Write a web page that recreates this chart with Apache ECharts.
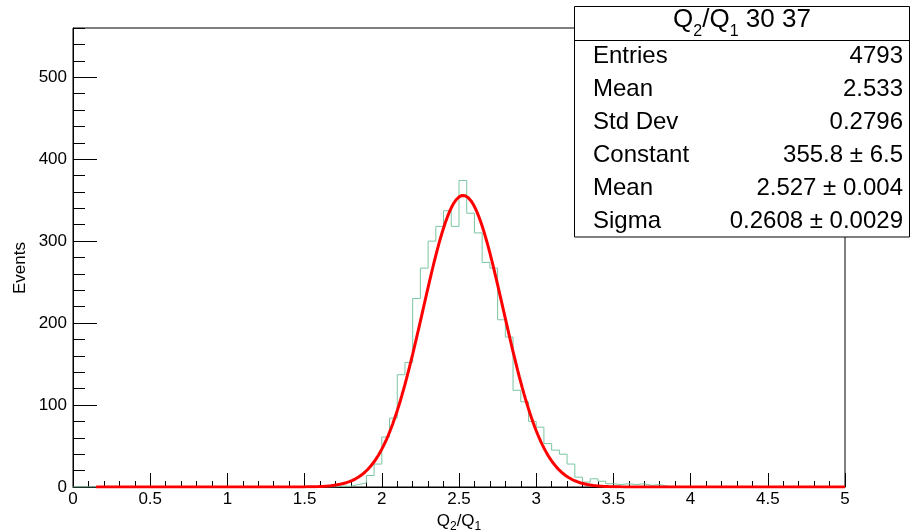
<!DOCTYPE html>
<html>
<head>
<meta charset="utf-8">
<script src="https://cdn.jsdelivr.net/npm/echarts@6/dist/echarts.min.js"></script>
<style>
  html, body { margin: 0; padding: 0; background: #fff; }
  #chart { width: 910px; height: 532px; }
</style>
</head>
<body>
<div id="chart"></div>
<script>
// Histogram binning: 100 bins of width 0.05 from 0 to 5
const binLow = 0;
const binWidth = 0.05;
const counts = [
  0, 0, 0, 0, 0, 0, 0, 0, 0, 0,
  0, 0, 0, 0, 0, 0, 0, 0, 0, 0,
  0, 0, 0, 0, 0, 0, 0, 0, 0, 0,
  0, 0, 0, 0, 1, 1, 3, 5, 14, 28,
  61, 84, 137, 152, 230, 267, 300, 318, 337, 318,
  374, 334, 310, 274, 267, 204, 183, 118, 104, 80,
  73, 53, 45, 40, 28, 12, 6, 10, 7, 4,
  3, 4, 3, 4, 2, 3, 1, 0, 0, 0,
  0, 0, 0, 0, 0, 0, 0, 0, 0, 0,
  0, 0, 0, 0, 0, 0, 0, 0, 0, 0
];

// Gaussian fit parameters
const fitConstant = 355.8;
const fitMean = 2.527;
const fitSigma = 0.2608;
const fitRange = [0.15, 5];

// Axis ranges
const xRange = [0, 5];
const yRange = [0, 560];

// Statistics box
const statLabels = ['Entries', 'Mean', 'Std Dev', 'Constant', 'Mean', 'Sigma'];
const statValues = ['4793', '2.533', '0.2796', '355.8 \u00b1 6.5', '2.527 \u00b1 0.004', '0.2608 \u00b1 0.0029'];

const FONT = "'Liberation Sans', Arial, Helvetica, sans-serif";

// Step outline of the histogram: one point per lower bin edge, plus the closing edge
const histPoints = counts.map((c, i) => [binLow + i * binWidth, c]);
histPoints.push([binLow + counts.length * binWidth, counts[counts.length - 1]]);

// Fitted Gaussian sampled across its range
const fitPoints = [];
for (let k = 0; ; k++) {
  const x = fitRange[0] + k * 0.01;
  if (x > fitRange[1] + 1e-9) break;
  const z = (x - fitMean) / fitSigma;
  fitPoints.push([x, fitConstant * Math.exp(-0.5 * z * z)]);
}

const chart = echarts.init(document.getElementById('chart'), null, { renderer: 'canvas' });

const baseAxis = {
  type: 'value',
  splitLine: { show: false },
  axisLine: { show: true, onZero: false, lineStyle: { color: '#000', width: 1 } },
  axisLabel: { show: false },
  axisTick: { show: true, inside: true, lineStyle: { color: '#000', width: 1 } }
};

const statsElements = [
  {
    type: 'rect',
    shape: { x: 574.5, y: 6.5, width: 335, height: 230.5 },
    style: { fill: '#fff', stroke: '#000', lineWidth: 1 },
    z: 100
  },
  {
    type: 'line',
    shape: { x1: 574.5, y1: 40.5, x2: 909.5, y2: 40.5 },
    style: { stroke: '#000', lineWidth: 1 },
    z: 101
  },
  {
    type: 'text',
    x: 742, y: 20,
    z: 101,
    style: {
      text: '{a|Q}{b|2}{a|/Q}{b|1}{a| 30 37}',
      align: 'center',
      verticalAlign: 'middle',
      fill: '#000',
      rich: {
        a: { fontFamily: FONT, fontSize: 26, lineHeight: 40, fill: '#000' },
        b: { fontFamily: FONT, fontSize: 16, lineHeight: 16, verticalAlign: 'bottom', fill: '#000' }
      }
    }
  }
];
statLabels.forEach((label, i) => {
  const y = 56 + i * 33;
  statsElements.push({
    type: 'text', x: 593, y: y, z: 101,
    style: { text: label, fontFamily: FONT, fontSize: 24, fill: '#000', align: 'left', verticalAlign: 'middle' }
  });
  statsElements.push({
    type: 'text', x: 903, y: y, z: 101,
    style: { text: statValues[i], fontFamily: FONT, fontSize: 24, fill: '#000', align: 'right', verticalAlign: 'middle' }
  });
});

chart.setOption({
  animation: false,
  backgroundColor: '#fff',
  textStyle: { fontFamily: FONT },
  grid: {
    left: 73, right: 65, top: 28, bottom: 45,
    show: true, borderColor: '#000', borderWidth: 1, backgroundColor: 'transparent'
  },
  xAxis: [
    Object.assign({}, baseAxis, {
      min: xRange[0], max: xRange[1], interval: 0.1, position: 'bottom',
      axisTick: { show: true, inside: true, length: 6, lineStyle: { color: '#000', width: 1 } }
    }),
    Object.assign({}, baseAxis, {
      min: xRange[0], max: xRange[1], interval: 0.5, position: 'bottom', offset: 0,
      axisLine: { show: false },
      axisTick: { show: true, inside: true, length: 14, lineStyle: { color: '#000', width: 1 } },
      axisLabel: { show: true, color: '#000', fontSize: 17, fontFamily: FONT, margin: 4 }
    })
  ],
  yAxis: [
    Object.assign({}, baseAxis, {
      min: yRange[0], max: yRange[1], interval: 20, position: 'left',
      axisTick: { show: true, inside: true, length: 12, lineStyle: { color: '#000', width: 1 } }
    }),
    Object.assign({}, baseAxis, {
      min: yRange[0], max: yRange[1], interval: 100, position: 'left', offset: 0,
      axisLine: { show: false },
      axisTick: { show: true, inside: true, length: 24, lineStyle: { color: '#000', width: 1 } },
      axisLabel: { show: true, color: '#000', fontSize: 17, fontFamily: FONT, margin: 6, showMaxLabel: false }
    })
  ],
  series: [
    {
      type: 'line',
      name: 'histogram',
      xAxisIndex: 0, yAxisIndex: 0,
      data: histPoints,
      step: 'end',
      symbol: 'none',
      clip: true,
      lineStyle: { color: '#7cc6a2', width: 1 },
      z: 3
    },
    {
      type: 'line',
      name: 'gaus',
      xAxisIndex: 0, yAxisIndex: 0,
      data: fitPoints,
      symbol: 'none',
      clip: true,
      smooth: false,
      lineStyle: { color: '#ff0000', width: 3 },
      z: 4
    }
  ],
  graphic: [
    {
      type: 'text',
      x: 20, y: 268,
      rotation: Math.PI / 2,
      style: { text: 'Events', fontFamily: FONT, fontSize: 17, fill: '#000', align: 'center', verticalAlign: 'middle' }
    },
    {
      type: 'text',
      x: 459, y: 521,
      style: {
        text: '{a|Q}{b|2}{a|/Q}{b|1}',
        align: 'center',
        verticalAlign: 'middle',
        fill: '#000',
        rich: {
          a: { fontFamily: FONT, fontSize: 17, lineHeight: 24, fill: '#000' },
          b: { fontFamily: FONT, fontSize: 12, lineHeight: 12, verticalAlign: 'bottom', fill: '#000' }
        }
      }
    }
  ].concat(statsElements)
});
</script>
</body>
</html>
